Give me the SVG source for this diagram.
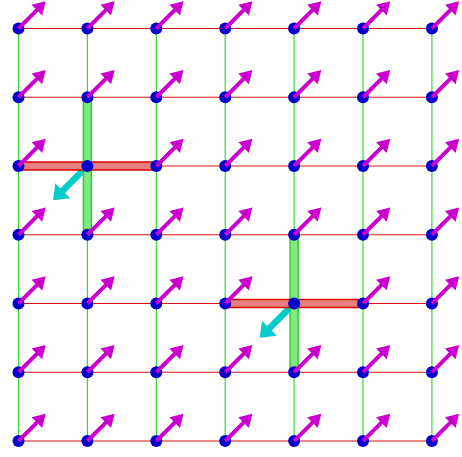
<svg xmlns="http://www.w3.org/2000/svg" xmlns:xlink="http://www.w3.org/1999/xlink" width="462" height="457" viewBox="0 0 462 457">
<style>
.h{stroke:#dd1010;stroke-width:1.2}
.v{stroke:#33dd33;stroke-width:1.2}
.pt{fill:#0000cc}
.mg{fill:#cc00cc}
.cy{fill:#00cccc}
.rb{fill:#e88080;stroke:#dd0000;stroke-width:1.5}
.gb{fill:#80e880;stroke:#33cc33;stroke-width:1.5}
</style>
<defs>
<path id="ma" d="M0,-2 H26 V-7.5 L38.5,0 L26,7.5 V2 H0 Z"/>
<path id="ca" d="M0,-3.3 H35 V-10.5 L48.5,0 L35,10.5 V3.3 H0 Z"/>
<circle id="p" r="6"/>
</defs>
<rect width="462" height="457" fill="#fff"/>
<g id="connectors">
<g class="h">
<line x1="18.5" y1="28.5" x2="431.9" y2="28.5"/>
<line x1="18.5" y1="97.25" x2="431.9" y2="97.25"/>
<line x1="18.5" y1="166" x2="431.9" y2="166"/>
<line x1="18.5" y1="234.75" x2="431.9" y2="234.75"/>
<line x1="18.5" y1="303.5" x2="431.9" y2="303.5"/>
<line x1="18.5" y1="372.25" x2="431.9" y2="372.25"/>
<line x1="18.5" y1="441" x2="431.9" y2="441"/>
</g>
<g class="v">
<line x1="18.5" y1="28.5" x2="18.5" y2="441"/>
<line x1="87.4" y1="28.5" x2="87.4" y2="441"/>
<line x1="156.3" y1="28.5" x2="156.3" y2="441"/>
<line x1="225.2" y1="28.5" x2="225.2" y2="441"/>
<line x1="294.1" y1="28.5" x2="294.1" y2="441"/>
<line x1="363" y1="28.5" x2="363" y2="441"/>
<line x1="431.9" y1="28.5" x2="431.9" y2="441"/>
</g>
</g>
<g id="cyan-arrows" class="cy">
<use xlink:href="#ca" transform="translate(87.4,166) rotate(135)"/>
<use xlink:href="#ca" transform="translate(294.1,303.5) rotate(135)"/>
</g>
<g id="highlights">
<rect class="rb" x="18.5" y="162" width="137.8" height="8"/>
<rect class="gb" x="83.4" y="97.25" width="8" height="137.5"/>
<rect class="rb" x="225.2" y="299.5" width="137.8" height="8"/>
<rect class="gb" x="290.1" y="234.75" width="8" height="137.5"/>
</g>
<g id="nodes" class="pt">
<use xlink:href="#p" x="18.5" y="28.5"/><use xlink:href="#p" x="87.4" y="28.5"/><use xlink:href="#p" x="156.3" y="28.5"/><use xlink:href="#p" x="225.2" y="28.5"/><use xlink:href="#p" x="294.1" y="28.5"/><use xlink:href="#p" x="363" y="28.5"/><use xlink:href="#p" x="431.9" y="28.5"/>
<use xlink:href="#p" x="18.5" y="97.25"/><use xlink:href="#p" x="87.4" y="97.25"/><use xlink:href="#p" x="156.3" y="97.25"/><use xlink:href="#p" x="225.2" y="97.25"/><use xlink:href="#p" x="294.1" y="97.25"/><use xlink:href="#p" x="363" y="97.25"/><use xlink:href="#p" x="431.9" y="97.25"/>
<use xlink:href="#p" x="18.5" y="166"/><use xlink:href="#p" x="87.4" y="166"/><use xlink:href="#p" x="156.3" y="166"/><use xlink:href="#p" x="225.2" y="166"/><use xlink:href="#p" x="294.1" y="166"/><use xlink:href="#p" x="363" y="166"/><use xlink:href="#p" x="431.9" y="166"/>
<use xlink:href="#p" x="18.5" y="234.75"/><use xlink:href="#p" x="87.4" y="234.75"/><use xlink:href="#p" x="156.3" y="234.75"/><use xlink:href="#p" x="225.2" y="234.75"/><use xlink:href="#p" x="294.1" y="234.75"/><use xlink:href="#p" x="363" y="234.75"/><use xlink:href="#p" x="431.9" y="234.75"/>
<use xlink:href="#p" x="18.5" y="303.5"/><use xlink:href="#p" x="87.4" y="303.5"/><use xlink:href="#p" x="156.3" y="303.5"/><use xlink:href="#p" x="225.2" y="303.5"/><use xlink:href="#p" x="294.1" y="303.5"/><use xlink:href="#p" x="363" y="303.5"/><use xlink:href="#p" x="431.9" y="303.5"/>
<use xlink:href="#p" x="18.5" y="372.25"/><use xlink:href="#p" x="87.4" y="372.25"/><use xlink:href="#p" x="156.3" y="372.25"/><use xlink:href="#p" x="225.2" y="372.25"/><use xlink:href="#p" x="294.1" y="372.25"/><use xlink:href="#p" x="363" y="372.25"/><use xlink:href="#p" x="431.9" y="372.25"/>
<use xlink:href="#p" x="18.5" y="441"/><use xlink:href="#p" x="87.4" y="441"/><use xlink:href="#p" x="156.3" y="441"/><use xlink:href="#p" x="225.2" y="441"/><use xlink:href="#p" x="294.1" y="441"/><use xlink:href="#p" x="363" y="441"/><use xlink:href="#p" x="431.9" y="441"/>
</g>
<g id="magenta-arrows" class="mg">
<use xlink:href="#ma" transform="translate(18.5,28.5) rotate(-45)"/><use xlink:href="#ma" transform="translate(87.4,28.5) rotate(-45)"/><use xlink:href="#ma" transform="translate(156.3,28.5) rotate(-45)"/><use xlink:href="#ma" transform="translate(225.2,28.5) rotate(-45)"/><use xlink:href="#ma" transform="translate(294.1,28.5) rotate(-45)"/><use xlink:href="#ma" transform="translate(363,28.5) rotate(-45)"/><use xlink:href="#ma" transform="translate(431.9,28.5) rotate(-45)"/>
<use xlink:href="#ma" transform="translate(18.5,97.25) rotate(-45)"/><use xlink:href="#ma" transform="translate(87.4,97.25) rotate(-45)"/><use xlink:href="#ma" transform="translate(156.3,97.25) rotate(-45)"/><use xlink:href="#ma" transform="translate(225.2,97.25) rotate(-45)"/><use xlink:href="#ma" transform="translate(294.1,97.25) rotate(-45)"/><use xlink:href="#ma" transform="translate(363,97.25) rotate(-45)"/><use xlink:href="#ma" transform="translate(431.9,97.25) rotate(-45)"/>
<use xlink:href="#ma" transform="translate(18.5,166) rotate(-45)"/><use xlink:href="#ma" transform="translate(156.3,166) rotate(-45)"/><use xlink:href="#ma" transform="translate(225.2,166) rotate(-45)"/><use xlink:href="#ma" transform="translate(294.1,166) rotate(-45)"/><use xlink:href="#ma" transform="translate(363,166) rotate(-45)"/><use xlink:href="#ma" transform="translate(431.9,166) rotate(-45)"/>
<use xlink:href="#ma" transform="translate(18.5,234.75) rotate(-45)"/><use xlink:href="#ma" transform="translate(87.4,234.75) rotate(-45)"/><use xlink:href="#ma" transform="translate(156.3,234.75) rotate(-45)"/><use xlink:href="#ma" transform="translate(225.2,234.75) rotate(-45)"/><use xlink:href="#ma" transform="translate(294.1,234.75) rotate(-45)"/><use xlink:href="#ma" transform="translate(363,234.75) rotate(-45)"/><use xlink:href="#ma" transform="translate(431.9,234.75) rotate(-45)"/>
<use xlink:href="#ma" transform="translate(18.5,303.5) rotate(-45)"/><use xlink:href="#ma" transform="translate(87.4,303.5) rotate(-45)"/><use xlink:href="#ma" transform="translate(156.3,303.5) rotate(-45)"/><use xlink:href="#ma" transform="translate(225.2,303.5) rotate(-45)"/><use xlink:href="#ma" transform="translate(363,303.5) rotate(-45)"/><use xlink:href="#ma" transform="translate(431.9,303.5) rotate(-45)"/>
<use xlink:href="#ma" transform="translate(18.5,372.25) rotate(-45)"/><use xlink:href="#ma" transform="translate(87.4,372.25) rotate(-45)"/><use xlink:href="#ma" transform="translate(156.3,372.25) rotate(-45)"/><use xlink:href="#ma" transform="translate(225.2,372.25) rotate(-45)"/><use xlink:href="#ma" transform="translate(294.1,372.25) rotate(-45)"/><use xlink:href="#ma" transform="translate(363,372.25) rotate(-45)"/><use xlink:href="#ma" transform="translate(431.9,372.25) rotate(-45)"/>
<use xlink:href="#ma" transform="translate(18.5,441) rotate(-45)"/><use xlink:href="#ma" transform="translate(87.4,441) rotate(-45)"/><use xlink:href="#ma" transform="translate(156.3,441) rotate(-45)"/><use xlink:href="#ma" transform="translate(225.2,441) rotate(-45)"/><use xlink:href="#ma" transform="translate(294.1,441) rotate(-45)"/><use xlink:href="#ma" transform="translate(363,441) rotate(-45)"/><use xlink:href="#ma" transform="translate(431.9,441) rotate(-45)"/>
</g>
</svg>
